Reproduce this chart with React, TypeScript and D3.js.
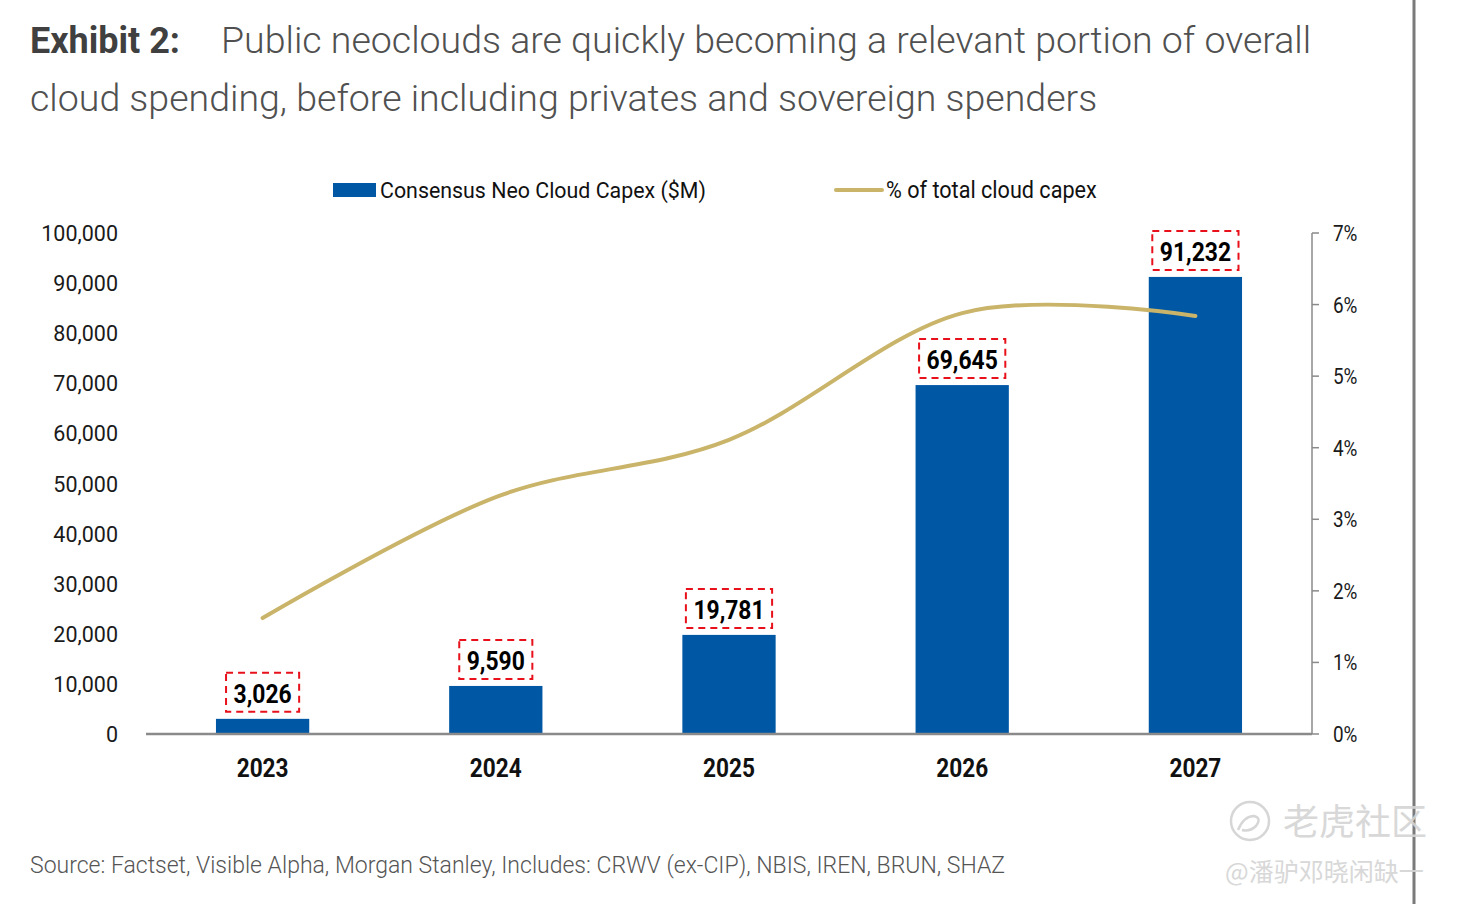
import { useEffect, useRef } from 'react';
import * as d3 from 'd3';

const years = ['2023', '2024', '2025', '2026', '2027'];
const capex = [3026, 9590, 19781, 69645, 91232];
const pctOfTotal = [1.62, 3.31, 4.11, 5.88, 5.84];
const leftTicks = [0, 10000, 20000, 30000, 40000, 50000, 60000, 70000, 80000, 90000, 100000];
const rightTicks = [0, 1, 2, 3, 4, 5, 6, 7];

const W = 1458;
const H = 904;
const FONT = 'Roboto, "Noto Sans", sans-serif';

const BLUE = '#0057a4';
const GOLD = '#c9b46a';

export default function App() {
  const svgRef = useRef<SVGSVGElement>(null);

  useEffect(() => {
    if (!svgRef.current) return;
    const svg = d3.select(svgRef.current);
    svg.selectAll('*').remove();

    const x = d3.scaleBand<string>().domain(years).range([146, 1312]).paddingInner(0.6).paddingOuter(0.3);
    const y = d3.scaleLinear().domain([0, 100000]).range([734, 233]);
    const y2 = d3.scaleLinear().domain([0, 7]).range([734, 233]);

    // no condensed face installed, so squeeze Roboto horizontally
    const cond = (px: number, py: number, txt: string, size: number, weight: number, anchor: string, sx: number, fill = '#111') =>
      svg.append('text')
        .attr('transform', `translate(${px},${py}) scale(${sx},1)`)
        .attr('text-anchor', anchor)
        .style('font-family', FONT)
        .style('font-size', `${size}px`)
        .style('font-weight', weight)
        .style('fill', fill)
        .text(txt);

    // title
    const title = svg.append('text')
      .attr('x', 30).attr('y', 53)
      .style('font-family', FONT);
    title.append('tspan').style('font-size', '36px').style('font-weight', 700).style('fill', '#404040').text('Exhibit 2:');
    title.append('tspan').attr('x', 221).style('font-size', '37.5px').style('font-weight', 300).style('fill', '#505050')
      .text('Public neoclouds are quickly becoming a relevant portion of overall');
    svg.append('text')
      .attr('x', 30).attr('y', 111)
      .style('font-family', FONT).style('font-size', '37.5px').style('font-weight', 300).style('fill', '#505050')
      .text('cloud spending, before including privates and sovereign spenders');

    // legend
    svg.append('rect').attr('x', 333).attr('y', 183).attr('width', 43).attr('height', 14).attr('fill', BLUE);
    cond(380, 198, 'Consensus Neo Cloud Capex ($M)', 23, 400, 'start', 0.93);
    svg.append('line').attr('x1', 836).attr('x2', 882).attr('y1', 190).attr('y2', 190)
      .attr('stroke', GOLD).attr('stroke-width', 4).attr('stroke-linecap', 'round');
    cond(886, 198, '% of total cloud capex', 23, 400, 'start', 0.94);

    // left axis labels
    svg.append('g').selectAll('text').data(leftTicks).join('text')
      .attr('x', 118).attr('y', (d) => y(d) + 8)
      .attr('text-anchor', 'end')
      .style('font-family', FONT).style('font-size', '21.5px').style('fill', '#1a1a1a')
      .text((d) => d3.format(',')(d));

    // right axis
    svg.append('line').attr('x1', 1312).attr('x2', 1312).attr('y1', y2(7)).attr('y2', y2(0))
      .attr('stroke', '#8a8a8a').attr('stroke-width', 1.5);
    svg.append('g').selectAll('line').data(rightTicks).join('line')
      .attr('x1', 1312).attr('x2', 1319).attr('y1', (d) => y2(d)).attr('y2', (d) => y2(d))
      .attr('stroke', '#8a8a8a').attr('stroke-width', 1.5);
    rightTicks.forEach((t) => cond(1333, y2(t) + 8, `${t}%`, 22, 400, 'start', 0.86, '#1a1a1a'));

    // bars
    svg.append('g').selectAll('rect').data(capex).join('rect')
      .attr('x', (_, i) => x(years[i])!)
      .attr('y', (d) => y(d))
      .attr('width', x.bandwidth())
      .attr('height', (d) => y(0) - y(d))
      .attr('fill', BLUE);

    // baseline
    svg.append('line').attr('x1', 146).attr('x2', 1312).attr('y1', 734).attr('y2', 734)
      .attr('stroke', '#8a8a8a').attr('stroke-width', 2.5);

    // x labels
    years.forEach((yr) => cond(x(yr)! + x.bandwidth() / 2, 777, yr, 26, 700, 'middle', 0.87));

    // line
    const line = d3.line<number>()
      .x((_, i) => x(years[i])! + x.bandwidth() / 2)
      .y((d) => y2(d))
      .curve(d3.curveCardinal.tension(0));
    svg.append('path').datum(pctOfTotal)
      .attr('d', line)
      .attr('fill', 'none')
      .attr('stroke', GOLD)
      .attr('stroke-width', 4)
      .attr('stroke-linecap', 'round');

    // value labels with dashed boxes
    const LSX = 0.88;
    capex.forEach((v, i) => {
      const cx = x(years[i])! + x.bandwidth() / 2;
      const top = y(v);
      const t = cond(cx, top - 16, d3.format(',')(v), 26, 700, 'middle', LSX, '#000');
      const bb = (t.node() as SVGTextElement).getBBox();
      const w = bb.width * LSX + 15;
      svg.append('rect')
        .attr('x', cx - w / 2).attr('y', top - 46)
        .attr('width', w).attr('height', 39)
        .attr('fill', 'none')
        .attr('stroke', '#e8101a')
        .attr('stroke-width', 2)
        .attr('stroke-dasharray', '7,5');
    });

    // source
    svg.append('text')
      .attr('x', 30).attr('y', 873)
      .style('font-family', FONT).style('font-size', '23px').style('font-weight', 300).style('fill', '#555')
      .text('Source: Factset, Visible Alpha, Morgan Stanley, Includes: CRWV (ex-CIP), NBIS, IREN, BRUN, SHAZ');

    // page edge rule
    svg.append('line').attr('x1', 1414).attr('x2', 1414).attr('y1', 0).attr('y2', H)
      .attr('stroke', '#7a7a7a').attr('stroke-width', 3);

    // watermark
    const wm = svg.append('g').style('opacity', 0.9);
    wm.append('circle').attr('cx', 1250).attr('cy', 821).attr('r', 19)
      .attr('fill', 'none').attr('stroke', '#d2d2d2').attr('stroke-width', 2.5);
    wm.append('path').attr('d', 'M1238,830 q6,-14 16,-14 q8,2 2,10 q-6,6 -14,4')
      .attr('fill', 'none').attr('stroke', '#d2d2d2').attr('stroke-width', 2.5);
    wm.append('text').attr('x', 1283).attr('y', 835)
      .style('font-family', '"Noto Sans CJK SC", sans-serif').style('font-size', '36px')
      .style('fill', '#d4d4d4').text('老虎社区');
    wm.append('text').attr('x', 1225).attr('y', 881)
      .style('font-family', '"Noto Sans CJK SC", sans-serif').style('font-size', '25px')
      .style('fill', '#d4d4d4').text('@潘驴邓晓闲缺一');
  }, []);

  return (
    <svg
      ref={svgRef}
      width={W}
      height={H}
      style={{ position: 'absolute', left: 0, top: 0, background: '#fff' }}
    />
  );
}
